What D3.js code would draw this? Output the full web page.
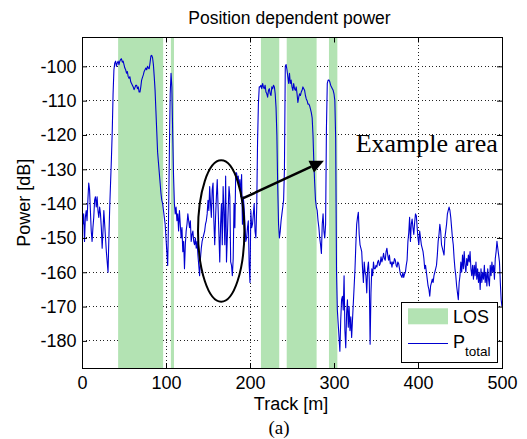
<!DOCTYPE html>
<html>
<head>
<meta charset="utf-8">
<script src="https://cdn.jsdelivr.net/npm/d3@7"></script>
<style>
  body { margin: 0; background: #fff; }
  svg { display: block; }
</style>
</head>
<body>
<script>
// ---- data -------------------------------------------------------------
// Received power along the track, one sample per metre (index = metres).
const trackStepM = 1;
const powerDb = [
  // 0 m
  -141,-146,-143,-151,-144,-142,-145,-139,-134,-136,
  -142,-148,-151,-147,-144,-139,-138,-141,-138,-142,
  -144,-141,-143,-147,-153,-148,-142,-146,-150,-154,
  -157,-160,-150,-141,-134,-127,-119,-108,-101,-99,
  -98.5,-100,-99,-98.5,-99.5,-98.5,-98,-97.8,-98.8,-98.5,
  -99.5,-100.5,-101,-102,-101.5,-103,-103.5,-103,-104.5,-105,
  -105.5,-106,-106.8,-106.2,-105.5,-105.5,-106.5,-106,-107.5,-107.5,
  -106,-104,-103.2,-102.5,-101.5,-101,-100.5,-101,-100,-100.5,
  -100.7,-99,-97,-96.8,-97.5,-99.5,-103,-107,-113,-119,
  -125,-128,-131,-134,-137,-139,-140,-142,-144,-146,
  // 100 m
  -150,-154,-158,-145,-125,-108,-102,-106,-120,-132,
  -140,-143,-141,-145,-143,-148,-142,-146,-150,-147,
  -154,-151,-159,-152,-148,-146,-143,-145,-147,-145,
  -151,-149,-148,-151,-152,-150,-153,-151,-155,-158,
  -161,-156,-153,-151,-150,-149,-148,-146,-145,-143,
  -139,-142,-135,-140,-144,-136,-134,-145,-152,-144,
  -138,-133,-141,-149,-157,-146,-140,-152,-135,-142,
  -152,-132,-157,-150,-142,-135,-138,-157,-158,-161,
  -156,-140,-147,-131,-131,-133,-132,-135,-133,-138,
  -131.5,-146,-138,-141,-146,-151,-150,-147,-145,-158,
  // 200 m
  -163,-142,-147,-146,-143,-140,-148,-150,-141,-122,
  -111,-106,-106,-105.5,-106.5,-105,-106,-106.5,-105.5,-107.5,
  -108,-109,-107,-106.5,-108,-108.5,-106,-106.5,-105.5,-106,
  -108,-112,-120,-135,-146,-150,-148,-145,-143,-141,
  -139,-130,-100,-99.5,-101,-103,-105,-102,-105,-104,
  -106,-107,-105,-106.5,-107,-106,-108,-110.5,-109,-108,
  -108.5,-107.5,-107,-106,-106.5,-107,-108.5,-109.5,-110,-111,
  -111,-111.5,-112.5,-113.5,-115,-120,-128,-134,-139,-141,
  -142,-145,-147,-150,-152,-154.5,-146,-143,-148,-150,
  -146,-118,-105,-104,-104,-104.5,-105.5,-106,-106.5,-107,
  // 300 m
  -108,-110,-121,-160,-171,-175,-179,-183,-174,-168,
  -167,-171,-161,-177,-182,-172,-168,-176,-170,-177,
  -173,-179,-174,-169,-164,-159,-152,-146,-144,-142.5,
  -149,-152,-153,-154,-159,-163,-157,-160,-161,-166,
  -159,-157,-162,-181,-166,-159,-161,-157,-159,-159,
  -158,-158.5,-157,-156.5,-158,-157.5,-155.5,-157,-156,-154.5,
  -156,-156.5,-154,-153,-155,-156.5,-155,-157.5,-157,-158.5,
  -157,-157.5,-156,-156.5,-158,-158.5,-157,-157.5,-159,-160.5,
  -161,-161.5,-160,-161.5,-160.5,-160,-158,-156.5,-151,-148.5,
  -144,-151,-146,-144.5,-147,-149,-145.5,-143,-143.5,-147,
  // 400 m
  -150,-152,-148,-150,-152,-153,-154,-156,-159,-158,
  -160,-162,-164,-165,-167,-164,-163,-162,-163,-161,
  -160,-159,-158,-155,-151,-149,-146,-148,-152,-153,
  -154,-155,-150,-148,-146,-143,-142,-141,-142,-144,
  -147,-150,-152,-156,-159,-161,-164,-166,-168,-163,
  -161,-157,-160,-155,-159,-154,-158,-160,-156,-158,
  -155,-157,-154,-159,-161,-158,-162,-158,-161,-157,
  -162,-159,-163,-160,-165,-159,-163,-160,-162,-158,
  -163,-160,-164,-159,-162,-164,-158,-161,-157,-160,
  -158,-162,-156,-154,-151,-153,-155,-157,-163,-168,
  // 500 m
  -170
];

// Track sections with line of sight [start m, end m]
const losBands = [[43, 96.6], [105.8, 109.5], [213, 234.8], [243.7, 279.3], [294, 304]];

const xTicks = [0, 100, 200, 300, 400, 500];
const yTicks = [-180, -170, -160, -150, -140, -130, -120, -110, -100];
const xDomain = [0, 500];
const yDomain = [-187.9, -91.6];

const titleText = "Position dependent power";
const xLabelText = "Track [m]";
const yLabelText = "Power [dB]";
const losLabel = "LOS";
const powerLabel = "P";
const powerSub = "total";
const calloutText = "Example area";
const captionText = "(a)";

// ---- layout -----------------------------------------------------------
const W = 527, H = 439;
const plot = { left: 82, right: 502, top: 37.5, bottom: 368 };
const sans = "'Liberation Sans', Arial, Helvetica, sans-serif";
const serif = "'Liberation Serif', 'Times New Roman', serif";
const losFill = "#b3e3b3";
const lineBlue = "#0000d0";

const x = d3.scaleLinear().domain(xDomain).range([plot.left, plot.right]);
const y = d3.scaleLinear().domain(yDomain).range([plot.bottom, plot.top]);

const svg = d3.select("body").append("svg")
  .attr("width", W).attr("height", H)
  .style("font-family", sans);

svg.append("defs").append("clipPath").attr("id", "plotClip")
  .append("rect")
  .attr("x", plot.left).attr("y", plot.top)
  .attr("width", plot.right - plot.left).attr("height", plot.bottom - plot.top);

// dotted grid
const grid = svg.append("g")
  .attr("stroke", "#222").attr("stroke-width", 1)
  .attr("stroke-dasharray", "1,2.5")
  .attr("shape-rendering", "crispEdges");
grid.selectAll("line.gx").data(xTicks.filter(t => t > xDomain[0] && t < xDomain[1]))
  .join("line").attr("class", "gx")
  .attr("x1", d => x(d)).attr("x2", d => x(d))
  .attr("y1", plot.top).attr("y2", plot.bottom);
grid.selectAll("line.gy").data(yTicks)
  .join("line").attr("class", "gy")
  .attr("x1", plot.left).attr("x2", plot.right)
  .attr("y1", d => y(d)).attr("y2", d => y(d));

// LOS sections
svg.append("g").selectAll("rect").data(losBands).join("rect")
  .attr("x", d => x(d[0]))
  .attr("width", d => x(d[1]) - x(d[0]))
  .attr("y", plot.top)
  .attr("height", plot.bottom - plot.top)
  .attr("fill", losFill);

// power trace
const line = d3.line()
  .x((d, i) => x(i * trackStepM))
  .y(d => y(d));
svg.append("path")
  .datum(powerDb)
  .attr("clip-path", "url(#plotClip)")
  .attr("d", line)
  .attr("fill", "none")
  .attr("stroke", lineBlue)
  .attr("stroke-width", 1.1)
  .attr("stroke-linejoin", "round");

// axes with inward ticks on all four sides
const fmt = d => String(d);
function styleAxis(g) {
  g.select(".domain").remove();
  g.selectAll(".tick line").attr("stroke", "#000");
  g.selectAll(".tick text").attr("fill", "#000")
    .style("font-family", sans).style("font-size", "18px");
}
svg.append("g").attr("transform", `translate(0,${plot.bottom})`)
  .call(d3.axisBottom(x).tickValues(xTicks).tickFormat(fmt).tickSize(-5).tickPadding(8.5))
  .call(styleAxis);
svg.append("g").attr("transform", `translate(0,${plot.top})`)
  .call(d3.axisTop(x).tickValues(xTicks).tickFormat("").tickSize(-5))
  .call(styleAxis);
svg.append("g").attr("transform", `translate(${plot.left},0)`)
  .call(d3.axisLeft(y).tickValues(yTicks).tickFormat(fmt).tickSize(-5).tickPadding(5.5))
  .call(styleAxis);
svg.append("g").attr("transform", `translate(${plot.right},0)`)
  .call(d3.axisRight(y).tickValues(yTicks).tickFormat("").tickSize(-5))
  .call(styleAxis);

// axes box
svg.append("rect")
  .attr("x", plot.left).attr("y", plot.top)
  .attr("width", plot.right - plot.left).attr("height", plot.bottom - plot.top)
  .attr("fill", "none").attr("stroke", "#000").attr("stroke-width", 1)
  .attr("shape-rendering", "crispEdges");

// highlighted region and arrow
const ellipseCenter = [165.7, -148];
const ellipseRadius = [27.6, 20.6];   // metres, dB
svg.append("ellipse")
  .attr("cx", x(ellipseCenter[0])).attr("cy", y(ellipseCenter[1]))
  .attr("rx", x(ellipseCenter[0] + ellipseRadius[0]) - x(ellipseCenter[0]))
  .attr("ry", y(ellipseCenter[1]) - y(ellipseCenter[1] + ellipseRadius[1]))
  .attr("fill", "none").attr("stroke", "#000").attr("stroke-width", 2);

const arrowFrom = [191.3, -138.5], arrowTo = [288, -127.5];
const ax0 = x(arrowFrom[0]), ay0 = y(arrowFrom[1]);
const ax1 = x(arrowTo[0]), ay1 = y(arrowTo[1]);
const ang = Math.atan2(ay1 - ay0, ax1 - ax0);
const headLen = 14, headHalf = 6.5;
const bx = ax1 - headLen * Math.cos(ang), by = ay1 - headLen * Math.sin(ang);
svg.append("line")
  .attr("x1", ax0).attr("y1", ay0).attr("x2", bx).attr("y2", by)
  .attr("stroke", "#000").attr("stroke-width", 2.5);
svg.append("path")
  .attr("d", `M${ax1},${ay1}L${bx - headHalf * Math.sin(ang)},${by + headHalf * Math.cos(ang)}L${bx + headHalf * Math.sin(ang)},${by - headHalf * Math.cos(ang)}Z`)
  .attr("fill", "#000");

svg.append("text")
  .attr("x", x(325.8)).attr("y", y(-125.1))
  .style("font-family", serif).style("font-size", "26px")
  .attr("fill", "#000")
  .text(calloutText);

// legend
const lg = { x: 401.5, y: 302.5, w: 96, h: 60 };
const legend = svg.append("g");
legend.append("rect")
  .attr("x", lg.x).attr("y", lg.y).attr("width", lg.w).attr("height", lg.h)
  .attr("fill", "#fff").attr("stroke", "#000").attr("stroke-width", 1)
  .attr("shape-rendering", "crispEdges");
legend.append("rect")
  .attr("x", lg.x + 6.5).attr("y", lg.y + 5.8).attr("width", 40).attr("height", 16)
  .attr("fill", losFill);
legend.append("text")
  .attr("x", lg.x + 51.5).attr("y", lg.y + 20.3)
  .style("font-size", "18px").attr("fill", "#000")
  .text(losLabel);
legend.append("line")
  .attr("x1", lg.x + 6.5).attr("x2", lg.x + 46.5)
  .attr("y1", lg.y + 41).attr("y2", lg.y + 41)
  .attr("stroke", lineBlue).attr("stroke-width", 1);
const pt = legend.append("text")
  .attr("x", lg.x + 51.5).attr("y", lg.y + 45)
  .style("font-size", "18px").attr("fill", "#000");
pt.append("tspan").text(powerLabel);
pt.append("tspan").attr("dy", 8.5).style("font-size", "13.5px").text(powerSub);

// titles
svg.append("text")
  .attr("x", 289.5).attr("y", 24.4)
  .attr("text-anchor", "middle")
  .style("font-size", "17.5px").attr("fill", "#000")
  .text(titleText);
svg.append("text")
  .attr("x", 291).attr("y", 409.5)
  .attr("text-anchor", "middle")
  .style("font-size", "18px").attr("fill", "#000")
  .text(xLabelText);
svg.append("text")
  .attr("transform", `translate(30,${(plot.top + plot.bottom) / 2}) rotate(-90)`)
  .attr("text-anchor", "middle")
  .style("font-size", "18px").attr("fill", "#000")
  .text(yLabelText);
svg.append("text")
  .attr("x", 279).attr("y", 434)
  .attr("text-anchor", "middle")
  .style("font-family", serif).style("font-size", "19px").attr("fill", "#000")
  .text(captionText);
</script>
</body>
</html>
